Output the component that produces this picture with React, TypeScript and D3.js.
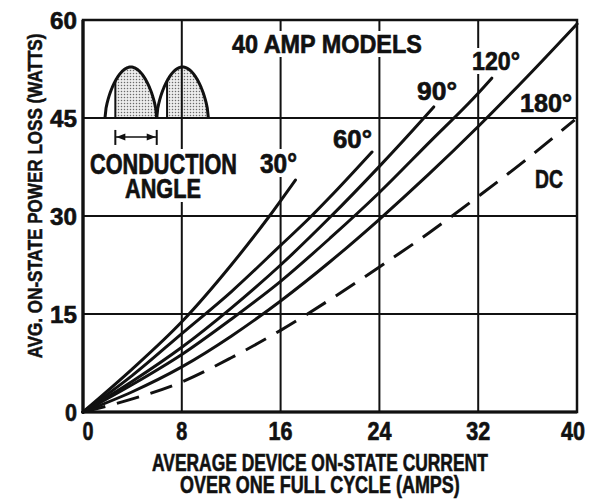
import { useEffect, useRef } from 'react';
import * as d3 from 'd3';

// axis ticks
const xTicks = [0, 8, 16, 24, 32, 40];
const yTicks = [0, 15, 30, 45, 60];

// curves: amps -> watts
const amps30 = [0, 4, 8, 12, 15.1, 17.2];
const watts30 = [0, 6.6, 13.8, 22.5, 30, 35.5];

const amps60 = [0, 4, 8, 12, 16, 18.5, 20, 23.4];
const watts60 = [0, 5.6, 12.0, 18.4, 25.5, 30, 32.9, 39.8];

const amps90 = [0, 4, 8, 12, 16, 20, 24, 27.6, 28.4];
const watts90 = [0, 4.7, 9.9, 15.9, 22.5, 29.8, 37.6, 45, 46.7];

const amps120 = [0, 4, 8, 12, 16, 20, 24, 28, 32, 33.1];
const watts120 = [0, 4.2, 8.8, 14.2, 20.0, 26.6, 33.6, 41.2, 48.8, 51.1];

const amps180 = [0, 4, 8, 12, 16, 20, 24, 28, 32, 36, 40];
const watts180 = [0, 3.1, 6.9, 11.6, 17.0, 23.0, 29.5, 36.4, 43.7, 51.4, 59.4];

const ampsDC = [0, 4, 8, 12, 16, 20, 24, 28, 32, 36, 39.8];
const wattsDC = [0, 2.0, 4.6, 8.3, 12.5, 17.2, 22.2, 27.4, 33.0, 38.8, 44.7];

const series = [
  { name: '30°', amps: amps30, watts: watts30, dashed: false },
  { name: '60°', amps: amps60, watts: watts60, dashed: false },
  { name: '90°', amps: amps90, watts: watts90, dashed: false },
  { name: '120°', amps: amps120, watts: watts120, dashed: false },
  { name: '180°', amps: amps180, watts: watts180, dashed: false },
  { name: 'DC', amps: ampsDC, watts: wattsDC, dashed: true },
];

const FONT = "'Liberation Sans', Arial, 'DejaVu Sans', sans-serif";
const CAP = 0.716; // cap height / em for Liberation Sans

// label placement (left x, baseline y, width, cap height)
const labels = [
  { text: '40 AMP MODELS', x: 232, y: 53, w: 190, cap: 18 },
  { text: '30°', x: 260, y: 173, w: 37, cap: 20 },
  { text: '60°', x: 333, y: 148, w: 39, cap: 19 },
  { text: '90°', x: 417, y: 100, w: 40, cap: 18 },
  { text: '120°', x: 472, y: 70, w: 48, cap: 18 },
  { text: '180°', x: 520, y: 112, w: 52, cap: 19 },
  { text: 'DC', x: 535, y: 188, w: 28, cap: 18 },
  { text: 'CONDUCTION', x: 90, y: 174, w: 147, cap: 21 },
  { text: 'ANGLE', x: 125, y: 198, w: 76, cap: 20 },
];

type G = d3.Selection<SVGGElement, unknown, null, undefined>;

// condensed bold text squeezed to a given width and cap height
function fit(g: G, str: string, x: number, base: number, w: number, cap: number, anchor = 'start', rot = '') {
  const t = g.append('text').attr('font-size', 20).attr('text-anchor', anchor).text(str);
  const nat = (t.node() as SVGTextElement).getComputedTextLength() || w;
  const sx = w / nat;
  const sy = cap / (CAP * 20);
  t.attr('transform', `translate(${x},${base})${rot} scale(${sx},${sy})`);
  return t;
}

export default function App() {
  const svgRef = useRef<SVGSVGElement>(null);

  useEffect(() => {
    if (!svgRef.current) return;
    const width = 594;
    const height = 501;
    const margin = { top: 20, right: 17, bottom: 89, left: 83 };

    const svg = d3.select(svgRef.current);
    svg.selectAll('*').remove();

    const x = d3.scaleLinear().domain([0, 40]).range([margin.left, width - margin.right]);
    const y = d3.scaleLinear().domain([0, 60]).range([height - margin.bottom, margin.top]);

    svg.append('rect').attr('width', width).attr('height', height).attr('fill', '#fff');

    // stipple for the inset waveform
    const pat = svg.append('defs').append('pattern')
      .attr('id', 'stipple').attr('patternUnits', 'userSpaceOnUse')
      .attr('width', 3).attr('height', 3);
    pat.append('rect').attr('width', 3).attr('height', 3).attr('fill', '#ececec');
    pat.append('circle').attr('cx', 1.5).attr('cy', 1.5).attr('r', 0.75).attr('fill', '#6a6a6a');

    // inset: two half waves sitting on the 45 W line
    const humps = [[1.78, 5.97], [5.97, 10.15]];
    const humpTop = 52.8;
    const cut = 0.2;
    const humpPts = (a: number, b: number, from: number) => {
      const pts: [number, number][] = [];
      for (let t = from; t <= 1.0001; t += 0.02) {
        const tt = Math.min(t, 1);
        const v = 45 + (humpTop - 45) * Math.pow(Math.sin(Math.PI * tt), 0.6);
        pts.push([x(a + (b - a) * tt), y(v)]);
      }
      return pts;
    };
    const shadeG = svg.append('g');
    humps.forEach(([a, b]) => {
      const shade = humpPts(a, b, cut);
      shade.push([x(b), y(45)], [shade[0][0], y(45)]);
      shadeG.append('path').attr('d', 'M' + shade.join('L') + 'Z').attr('fill', 'url(#stipple)');
    });

    // grid
    const grid = svg.append('g').attr('stroke', '#111').attr('stroke-width', 2);
    xTicks.slice(1, -1).forEach(t => {
      grid.append('line').attr('x1', x(t)).attr('x2', x(t)).attr('y1', y(60)).attr('y2', y(0));
    });
    yTicks.slice(1, -1).forEach(t => {
      grid.append('line').attr('x1', x(0)).attr('x2', x(40)).attr('y1', y(t)).attr('y2', y(t));
    });

    // frame
    svg.append('rect')
      .attr('x', x(0)).attr('y', y(60))
      .attr('width', x(40) - x(0)).attr('height', y(0) - y(60))
      .attr('fill', 'none').attr('stroke', '#111').attr('stroke-width', 2.5);
    svg.append('path')
      .attr('d', `M${x(0)},${y(60)}V${y(0)}H${x(40)}`)
      .attr('fill', 'none').attr('stroke', '#111').attr('stroke-width', 3.2);

    // inset outlines
    const inset = svg.append('g').attr('stroke', '#111').attr('fill', 'none');
    humps.forEach(([a, b]) => {
      inset.append('path').attr('d', 'M' + humpPts(a, b, 0).join('L'))
        .attr('stroke-width', 3).attr('stroke-linejoin', 'round');
      const s = humpPts(a, b, cut)[0];
      inset.append('line').attr('x1', s[0]).attr('x2', s[0]).attr('y1', s[1]).attr('y2', y(45))
        .attr('stroke-width', 2);
    });

    // conduction angle arrow
    const ax1 = humpPts(humps[0][0], humps[0][1], cut)[0][0];
    const ax2 = x(humps[0][1]);
    const ay = y(42.1);
    const arr = svg.append('g').attr('stroke', '#111').attr('fill', '#111');
    arr.append('line').attr('x1', ax1).attr('x2', ax2).attr('y1', ay).attr('y2', ay).attr('stroke-width', 1.6);
    arr.append('line').attr('x1', ax1).attr('x2', ax1).attr('y1', ay - 7).attr('y2', ay + 8).attr('stroke-width', 2);
    arr.append('line').attr('x1', ax2).attr('x2', ax2).attr('y1', ay - 7).attr('y2', ay + 8).attr('stroke-width', 2);
    arr.append('path').attr('stroke', 'none')
      .attr('d', `M${ax1 + 1},${ay}l9,-3.5v7Z M${ax2 - 1},${ay}l-9,-3.5v7Z`);

    // white boxes behind labels hide the grid there
    const maskG = svg.append('g').attr('fill', '#fff');
    labels.forEach(l => {
      maskG.append('rect')
        .attr('x', l.x - 3).attr('y', l.y - l.cap - 4)
        .attr('width', l.w + 6).attr('height', l.cap + 8);
    });

    // curves
    const line = d3.line<[number, number]>()
      .x(d => x(d[0]))
      .y(d => y(d[1]))
      .curve(d3.curveMonotoneX);
    const curves = svg.append('g');
    series.forEach(s => {
      const pts = s.amps.map((a, i) => [a, s.watts[i]] as [number, number]);
      curves.append('path')
        .datum(pts)
        .attr('d', line)
        .attr('fill', 'none')
        .attr('stroke', '#111')
        .attr('stroke-width', 3)
        .attr('stroke-linecap', s.dashed ? 'butt' : 'round')
        .attr('stroke-dasharray', s.dashed ? '23,12' : null);
    });

    // all text, slightly heavier than plain bold
    const textG = svg.append('g')
      .attr('font-family', FONT).attr('font-weight', 'bold').attr('fill', '#111')
      .attr('stroke', '#111').attr('stroke-width', 0.5) as G;
    labels.forEach(l => fit(textG, l.text, l.x, l.y, l.w, l.cap));

    // tick labels
    xTicks.forEach(t => {
      const s = String(t);
      const dx = t === 0 ? 5 : t === 40 ? -4 : 0;
      fit(textG, s, x(t) + dx, 440, s.length === 1 ? 11 : 24, 19, 'middle');
    });
    yTicks.forEach(t => {
      const s = String(t);
      fit(textG, s, x(0) - 6, y(t) + 9, s.length === 1 ? 12 : 27, 17, 'end');
    });

    // axis titles
    fit(textG, 'AVERAGE DEVICE ON-STATE CURRENT', 152, 471, 336, 17);
    fit(textG, 'OVER ONE FULL CYCLE (AMPS)', 180, 493, 280, 17);
    fit(textG, 'AVG. ON-STATE POWER LOSS (WATTS)', 42, 196, 325, 15, 'middle', ' rotate(-90)');
  }, []);

  return (
    <svg
      ref={svgRef}
      width={594}
      height={501}
      style={{ position: 'absolute', left: 0, top: 0, display: 'block' }}
    />
  );
}
